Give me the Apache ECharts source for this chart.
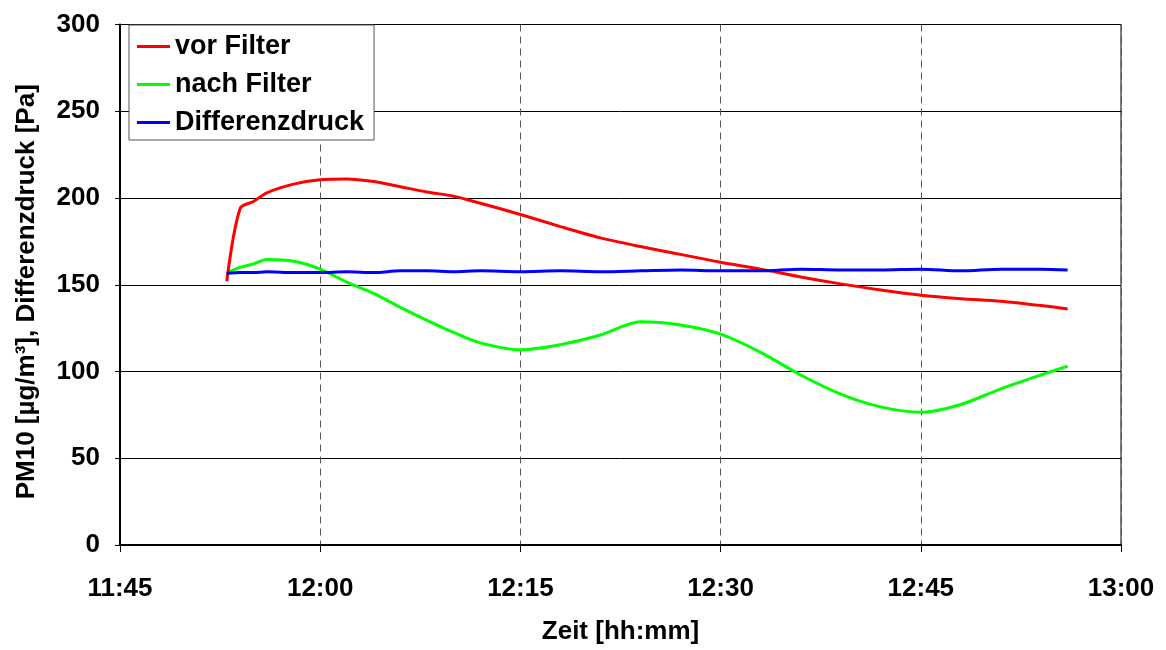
<!DOCTYPE html>
<html>
<head>
<meta charset="utf-8">
<title>PM10 vor/nach Filter</title>
<script src="https://cdn.jsdelivr.net/npm/echarts@6/dist/echarts.min.js"></script>
<style>
    html, body { margin: 0; padding: 0; background: #fff; }
    #chart { width: 1166px; height: 650px; }
</style>
</head>
<body>
<div id="chart"></div>
<script>
    // Messzeitpunkte (hh:mm)
    var times = ['11:53', '11:54', '11:55', '11:56', '11:58', '12:00', '12:02', '12:04', '12:06',
        '12:08', '12:10', '12:12', '12:15', '12:18', '12:21', '12:24', '12:27', '12:30',
        '12:33', '12:36', '12:39', '12:42', '12:45', '12:48', '12:51', '12:54', '12:56'];

    // PM10 vor Filter [µg/m³]
    var vorFilter = [152, 194, 198, 203, 208, 210.5, 211, 209.5, 206.5,
        203.5, 201, 197, 190.5, 183.5, 177, 172, 167.5, 163,
        159, 154.5, 150.5, 147, 144, 142, 140.5, 138, 136];

    // PM10 nach Filter [µg/m³]
    var nachFilter = [157, 160, 162, 164.5, 163.5, 159, 151.5, 145, 137,
        129.5, 122.5, 116.5, 112.5, 115.5, 121, 128.7, 126.8, 121.5,
        111, 98, 87, 79.6, 76.5, 81, 90, 98, 103];

    // Differenzdruck [Pa]
    var differenzdruck = [156.5, 157, 157, 157.5, 157, 157, 157.5, 157, 158,
        158, 157.5, 158, 157.5, 158, 157.5, 158, 158.5, 158,
        158, 159, 158.5, 158.5, 159, 158, 159, 159, 158.5];

    // Achsenbereich
    var xStart = '11:45';
    var xEnd = '13:00';

    function toMin(s) {
        var p = s.split(':');
        return parseInt(p[0], 10) * 60 + parseInt(p[1], 10);
    }
    function fmtMin(v) {
        var h = Math.floor(v / 60);
        var m = Math.round(v % 60);
        return h + ':' + (m < 10 ? '0' + m : m);
    }
    function pairs(values) {
        return times.map(function (t, i) { return [toMin(t), values[i]]; });
    }

    var font = "'Liberation Sans', Arial, sans-serif";
    var chart = echarts.init(document.getElementById('chart'));

    var option = {
        backgroundColor: '#fff',
        animation: false,
        grid: {
            left: 120,
            right: 45,
            top: 24.5,
            bottom: 103.5,
            show: true,
            borderColor: '#000',
            borderWidth: 1,
            backgroundColor: '#fff'
        },
        legend: {
            orient: 'vertical',
            left: 129,
            top: 25,
            padding: [8, 10, 4, 8],
            itemGap: 11,
            itemWidth: 33,
            itemHeight: 3,
            icon: 'rect',
            backgroundColor: '#fff',
            borderColor: '#555',
            borderWidth: 1,
            textStyle: {
                fontFamily: font,
                fontWeight: 'bold',
                fontSize: 27,
                color: '#000'
            },
            data: ['vor Filter', 'nach Filter', 'Differenzdruck']
        },
        xAxis: {
            type: 'value',
            min: toMin(xStart),
            max: toMin(xEnd),
            interval: 15,
            name: 'Zeit [hh:mm]',
            nameLocation: 'middle',
            nameGap: 74,
            nameTextStyle: {
                fontFamily: font,
                fontWeight: 'bold',
                fontSize: 26,
                color: '#000'
            },
            axisLine: { lineStyle: { color: '#000', width: 2 } },
            axisTick: { show: true, length: 7, lineStyle: { color: '#000' } },
            axisLabel: {
                margin: 31,
                fontFamily: font,
                fontWeight: 'bold',
                fontSize: 26,
                color: '#000',
                formatter: fmtMin
            },
            splitLine: {
                show: true,
                lineStyle: { color: '#555', width: 1, type: [7, 5] }
            }
        },
        yAxis: {
            type: 'value',
            min: 0,
            max: 300,
            interval: 50,
            name: 'PM10 [µg/m³], Differenzdruck [Pa]',
            nameLocation: 'middle',
            nameGap: 80,
            nameTextStyle: {
                fontFamily: font,
                fontWeight: 'bold',
                fontSize: 26,
                color: '#000',
                padding: [0, 14, 0, 0]
            },
            axisLine: { show: true, lineStyle: { color: '#000', width: 2 } },
            axisTick: { show: true, length: 5, lineStyle: { color: '#000' } },
            axisLabel: {
                margin: 20,
                fontFamily: font,
                fontWeight: 'bold',
                fontSize: 26,
                color: '#000'
            },
            splitLine: { show: true, lineStyle: { color: '#000', width: 1 } }
        },
        series: [
            {
                name: 'vor Filter',
                type: 'line',
                data: pairs(vorFilter),
                showSymbol: false,
                smooth: 0.3,
                color: '#ff0000',
                lineStyle: { width: 3 },
                z: 4
            },
            {
                name: 'nach Filter',
                type: 'line',
                data: pairs(nachFilter),
                showSymbol: false,
                smooth: 0.3,
                color: '#00ff00',
                lineStyle: { width: 3 },
                z: 3
            },
            {
                name: 'Differenzdruck',
                type: 'line',
                data: pairs(differenzdruck),
                showSymbol: false,
                smooth: 0.3,
                color: '#0000ff',
                lineStyle: { width: 3 },
                z: 5
            }
        ]
    };

    option && chart.setOption(option);
</script>
</body>
</html>
